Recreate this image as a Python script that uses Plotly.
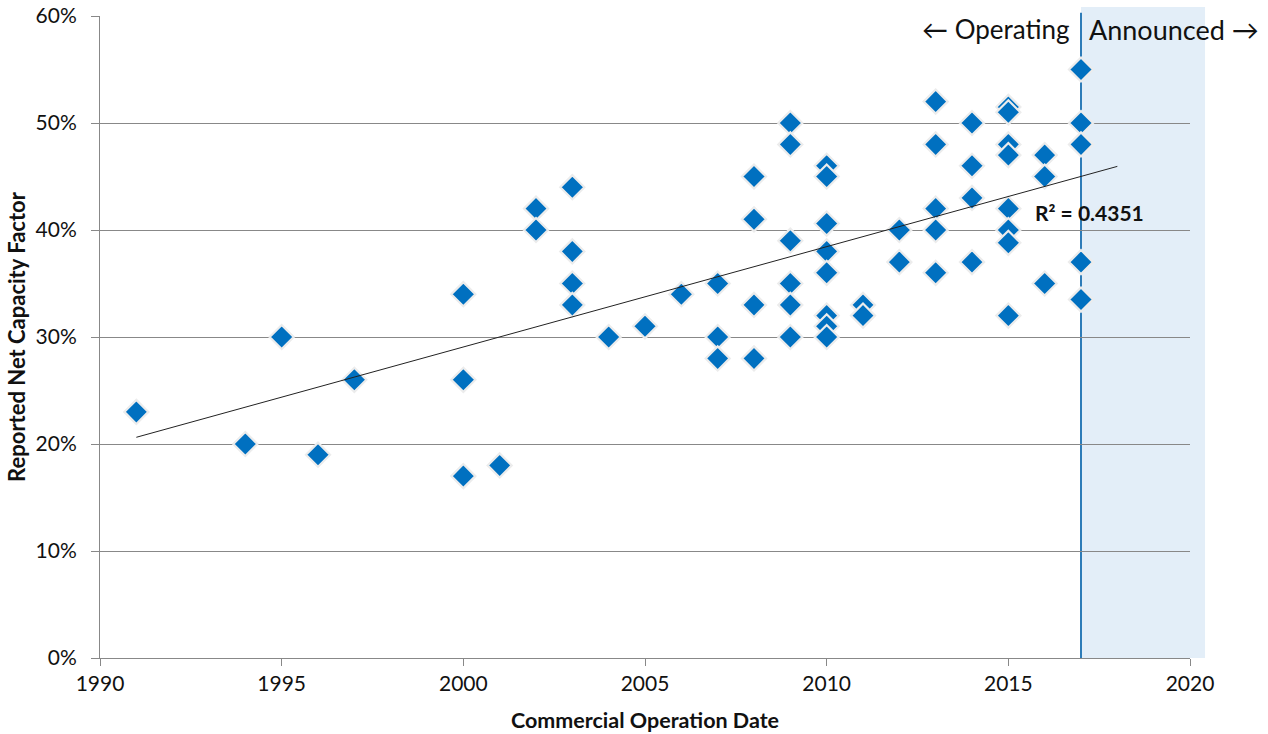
import numpy as np
import plotly.graph_objects as go

# Commercial operation year and reported net capacity factor (%)
years = [1991, 1994, 1995, 1996, 1997,
         2000, 2000, 2000, 2001,
         2002, 2002,
         2003, 2003, 2003, 2003,
         2004, 2005, 2006,
         2007, 2007, 2007,
         2008, 2008, 2008, 2008,
         2009, 2009, 2009, 2009, 2009, 2009,
         2010, 2010, 2010, 2010, 2010, 2010, 2010, 2010,
         2011, 2011,
         2012, 2012,
         2013, 2013, 2013, 2013, 2013,
         2014, 2014, 2014, 2014,
         2015, 2015, 2015, 2015, 2015, 2015, 2015, 2015,
         2016, 2016, 2016,
         2017, 2017, 2017, 2017, 2017]
capacity = [23, 20, 30, 19, 26,
            34, 26, 17, 18,
            42, 40,
            44, 38, 35, 33,
            30, 31, 34,
            35, 30, 28,
            45, 41, 33, 28,
            50, 48, 39, 35, 33, 30,
            46, 45, 40.6, 38, 36, 32, 31, 30,
            33, 32,
            40, 37,
            52, 48, 42, 40, 36,
            50, 46, 43, 37,
            51.5, 51, 48, 47, 42, 40, 38.8, 32,
            47, 45, 35,
            55, 50, 48, 37, 33.5]

x_ticks = [1990, 1995, 2000, 2005, 2010, 2015, 2020]
y_ticks = [0, 10, 20, 30, 40, 50, 60]
y_labels = [f"{v}%" for v in y_ticks]
x_range = [1990, 2020]
divider_year = 2017
r2_text = "R² = 0.4351"

x = np.array(years, dtype=float)
y = np.array(capacity, dtype=float) / 100
slope, intercept = np.polyfit(x, y, 1)
trend_x = np.array([min(years), max(years) + 1], dtype=float)
trend_y = slope * trend_x + intercept

FONT = "Lato, 'Open Sans', sans-serif"
BLUE = "#0070C0"
GRID = "#888888"

fig = go.Figure()

fig.add_trace(go.Scatter(
    x=years, y=y, mode="markers",
    marker=dict(symbol="diamond", size=18.5, color=BLUE,
                line=dict(color="#ECECEC", width=2.2)),
    showlegend=False, hoverinfo="x+y", cliponaxis=False))

fig.add_trace(go.Scatter(
    x=trend_x, y=trend_y, mode="lines",
    line=dict(color="#222222", width=1),
    showlegend=False, hoverinfo="skip"))

# Announced shaded region (extends slightly past plot edge)
div_paper = (divider_year - x_range[0]) / (x_range[1] - x_range[0])
fig.add_shape(type="rect", xref="paper", yref="paper",
              x0=div_paper, x1=1.0138, y0=0, y1=1.014,
              fillcolor="#E3EEF8", line=dict(width=0), layer="below")
fig.add_shape(type="line", xref="paper", yref="paper",
              x0=div_paper, x1=div_paper, y0=0, y1=1.005,
              line=dict(color="#2E7CB8", width=2), layer="below")

fig.add_annotation(x=div_paper, xref="paper", y=1.0, yref="paper",
                   text="← Operating", showarrow=False, xanchor="right",
                   yanchor="middle", xshift=-9, yshift=-13,
                   font=dict(family=FONT, size=26, color="#111111"))
fig.add_annotation(x=div_paper, xref="paper", y=1.0, yref="paper",
                   text="Announced →", showarrow=False, xanchor="left",
                   yanchor="middle", xshift=6, yshift=-13,
                   font=dict(family=FONT, size=27, color="#111111"))
fig.add_annotation(x=2015.67, xref="x", y=0.416, yref="y",
                   text=r2_text, showarrow=False, xanchor="left",
                   yanchor="middle",
                   font=dict(family=FONT, size=21, color="#111111", weight="bold"))

fig.update_layout(
    width=1268, height=734,
    margin=dict(l=100, r=78, t=16, b=76),
    paper_bgcolor="white", plot_bgcolor="rgba(0,0,0,0)",
    font=dict(family=FONT, size=21, color="#111111"),
    xaxis=dict(range=x_range, tickvals=x_ticks, showgrid=False,
               showline=True, linecolor=GRID, linewidth=1, automargin=False,
               ticks="outside", ticklen=7, tickcolor=GRID, zeroline=False,
               tickfont=dict(size=21),
               title=dict(text="<b>Commercial Operation Date</b>",
                          font=dict(family=FONT, size=21.5), standoff=18)),
    yaxis=dict(range=[0, 0.6], tickvals=[v / 100 for v in y_ticks],
               ticktext=y_labels, showgrid=True, gridcolor=GRID, gridwidth=1,
               showline=True, linecolor=GRID, linewidth=1, automargin=False,
               ticks="outside", ticklen=8, tickcolor=GRID, zeroline=False,
               tickfont=dict(size=21), ticklabelstandoff=10,
               ticklabeloverflow="allow",
               title=dict(text="<b>Reported Net Capacity Factor</b>",
                          font=dict(family=FONT, size=22), standoff=3)),
)

fig.write_html("out.html", config={"displayModeBar": False},
               post_script="document.body.style.margin='0';document.body.style.padding='0';")
